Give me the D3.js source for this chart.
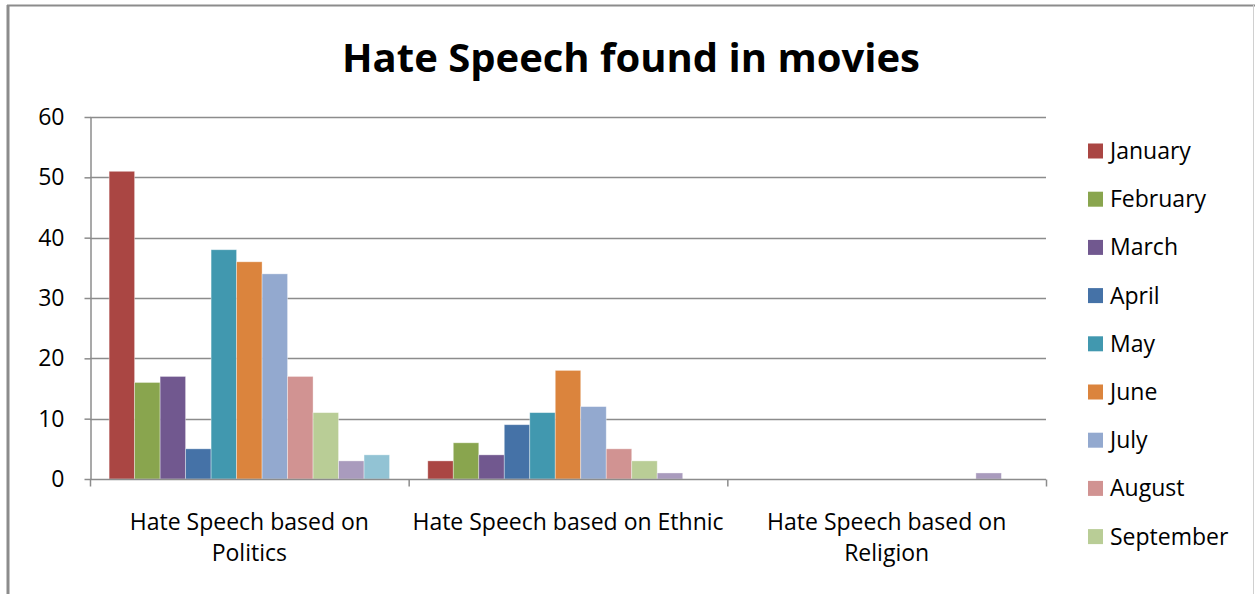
<!DOCTYPE html>
<html>
<head>
<meta charset="utf-8">
<script src="https://cdn.jsdelivr.net/npm/d3@7"></script>
<style>
  html, body { margin: 0; padding: 0; background: #fff; }
  svg { display: block; font-family: "Open Sans", Lato, sans-serif; }
</style>
</head>
<body>
<svg id="chart" width="1255" height="594"></svg>
<script>
// Categories along the x axis (each split into display lines)
const categories = [
  "Hate Speech based on Politics",
  "Hate Speech based on Ethnic",
  "Hate Speech based on Religion"
];
const categoryLines = [
  ["Hate Speech based on", "Politics"],
  ["Hate Speech based on Ethnic"],
  ["Hate Speech based on", "Religion"]
];

// One series per month
const months = ["January", "February", "March", "April", "May", "June",
                "July", "August", "September", "October", "November"];

// Counts per category, in month order
const politicsValues = [51, 16, 17, 5, 38, 36, 34, 17, 11, 3, 4];
const ethnicValues   = [3, 6, 4, 9, 11, 18, 12, 5, 3, 1, 0];
const religionValues = [0, 0, 0, 0, 0, 0, 0, 0, 0, 1, 0];

const yTicks = [0, 10, 20, 30, 40, 50, 60];

const colors = ["#AA4643", "#89A54E", "#71588F", "#4572A7", "#4198AF", "#DB843D",
                "#93A9CF", "#D19392", "#B9CD96", "#A99BBD", "#92C3D4"];

const valuesByCategory = [politicsValues, ethnicValues, religionValues];

const labelFont = "\"Open Sans\", sans-serif";
const labelSize = 23;

const svg = d3.select("#chart");

// Outer frame
svg.append("line").attr("x1", 8).attr("x2", 8).attr("y1", 5).attr("y2", 594)
  .attr("stroke", "#8c8c8c").attr("stroke-width", 3);
svg.append("line").attr("x1", 7).attr("x2", 1255).attr("y1", 5.5).attr("y2", 5.5)
  .attr("stroke", "#8c8c8c").attr("stroke-width", 2);
svg.append("line").attr("x1", 1253.5).attr("x2", 1253.5).attr("y1", 5).attr("y2", 594)
  .attr("stroke", "#d0d0d0").attr("stroke-width", 1);

// Title
svg.append("text")
  .attr("x", 631).attr("y", 72)
  .attr("text-anchor", "middle")
  .attr("font-weight", "bold")
  .attr("font-size", 40)
  .attr("fill", "#000")
  .text("Hate Speech found in movies");

const plot = { left: 90, right: 1046, top: 117, bottom: 479 };

const x0 = d3.scaleBand().domain(categories).range([plot.left, plot.right]).paddingInner(0).paddingOuter(0);
const x1 = d3.scaleBand().domain(months).range([0, x0.bandwidth()]).paddingInner(0).paddingOuter(0.75);
const y = d3.scaleLinear().domain([0, 60]).range([plot.bottom, plot.top]);

// Horizontal gridlines
svg.append("g")
  .selectAll("line")
  .data(yTicks.filter(t => t > 0))
  .join("line")
  .attr("x1", plot.left).attr("x2", plot.right)
  .attr("y1", d => Math.round(y(d)) + 0.5).attr("y2", d => Math.round(y(d)) + 0.5)
  .attr("stroke", "#8c8c8c").attr("stroke-width", 1.5);

// Y axis
const yAxis = svg.append("g")
  .attr("transform", `translate(${plot.left + 0.5},0)`)
  .call(d3.axisLeft(y).tickValues(yTicks).tickSize(6).tickPadding(20).tickSizeOuter(0));
yAxis.select(".domain").attr("stroke", "#8c8c8c").attr("stroke-width", 1.5);
yAxis.selectAll(".tick line").attr("stroke", "#8c8c8c").attr("stroke-width", 1.5);
yAxis.selectAll(".tick text")
  .attr("font-family", labelFont)
  .attr("font-size", labelSize).attr("fill", "#000");

// Bars
const groups = svg.append("g")
  .selectAll("g")
  .data(categories)
  .join("g")
  .attr("transform", d => `translate(${x0(d)},0)`);

groups.selectAll("rect")
  .data((c, i) => months.map((m, j) => ({ month: m, value: valuesByCategory[i][j], idx: j })))
  .join("rect")
  .attr("x", d => x1(d.month))
  .attr("width", x1.bandwidth())
  .attr("y", d => y(d.value))
  .attr("height", d => y(0) - y(d.value))
  .attr("fill", d => colors[d.idx])
  .attr("stroke", "rgba(255,255,255,0.45)")
  .attr("stroke-width", 0.8);

// X axis with ticks at category boundaries
const xAxisG = svg.append("g").attr("transform", `translate(0,${plot.bottom + 0.5})`);
xAxisG.append("line")
  .attr("x1", plot.left).attr("x2", plot.right)
  .attr("stroke", "#8c8c8c").attr("stroke-width", 1.5);
const boundaries = categories.map(c => x0(c)).concat([plot.right]);
xAxisG.selectAll("line.tick")
  .data(boundaries)
  .join("line")
  .attr("class", "tick")
  .attr("x1", d => d + 0.5).attr("x2", d => d + 0.5)
  .attr("y1", 0).attr("y2", 7)
  .attr("stroke", "#8c8c8c").attr("stroke-width", 1.5);

// Category labels
const catLabels = svg.append("g")
  .selectAll("text")
  .data(categories)
  .join("text")
  .attr("x", d => x0(d) + x0.bandwidth() / 2)
  .attr("y", 530)
  .attr("text-anchor", "middle")
  .attr("font-family", labelFont)
  .attr("font-size", labelSize)
  .attr("fill", "#000");
catLabels.selectAll("tspan")
  .data((d, i) => categoryLines[i])
  .join("tspan")
  .attr("x", function() { return this.parentNode.getAttribute("x"); })
  .attr("dy", (d, i) => i === 0 ? 0 : 31)
  .text(d => d);

// Legend (entries that fit the legend area)
const legendTop = 151, legendStep = 48.2;
const legendItems = months.filter((m, i) => legendTop + i * legendStep < 560);
const legend = svg.append("g")
  .selectAll("g")
  .data(legendItems)
  .join("g")
  .attr("transform", (d, i) => `translate(1088,${legendTop + i * legendStep})`);
legend.append("rect")
  .attr("x", 0).attr("y", -7.5)
  .attr("width", 15).attr("height", 15)
  .attr("fill", (d, i) => colors[i]);
legend.append("text")
  .attr("x", 22).attr("y", 0)
  .attr("dy", "0.35em")
  .attr("font-family", labelFont)
  .attr("font-size", labelSize)
  .attr("fill", "#000")
  .text(d => d);
</script>
</body>
</html>
